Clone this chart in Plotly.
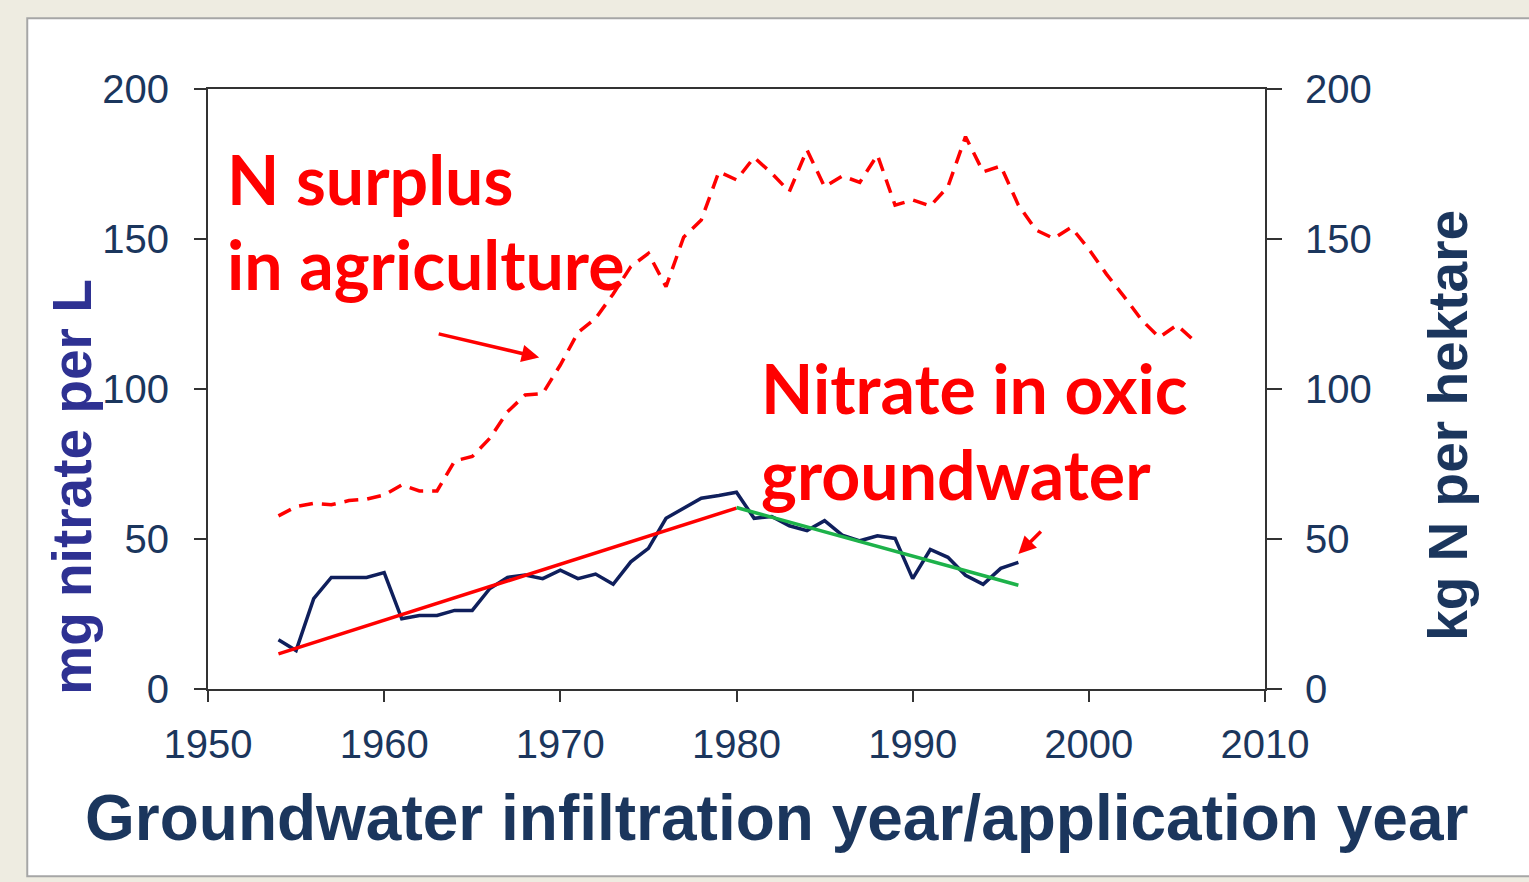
import plotly.graph_objects as go

# ---------------------------------------------------------------------------
# Data
# ---------------------------------------------------------------------------

nitrate_years = [
    1954, 1955, 1956, 1957, 1958, 1959, 1960, 1961, 1962, 1963, 1964,
    1965, 1966, 1967, 1968, 1969, 1970, 1971, 1972, 1973, 1974, 1975,
    1976, 1977, 1978, 1979, 1980, 1981, 1982, 1983, 1984, 1985, 1986,
    1987, 1988, 1989, 1990, 1991, 1992, 1993, 1994, 1995, 1996,
]
nitrate_mg_l = [
    16.4, 12.8, 30.1, 37.2, 37.2, 37.2, 38.8, 23.4, 24.5, 24.5, 26.2,
    26.2, 33.5, 37.2, 38.0, 36.8, 39.6, 36.8, 38.3, 34.9, 42.4, 46.9,
    56.9, 60.3, 63.6, 64.5, 65.6, 56.9, 57.5, 54.4, 52.8, 56.1, 51.3,
    49.4, 51.1, 50.2, 36.8, 46.5, 43.9, 37.9, 34.9, 40.2, 42.2,
]

surplus_years = [
    1954, 1955, 1956, 1957, 1958, 1959, 1960, 1961, 1962, 1963, 1964,
    1965, 1966, 1967, 1968, 1969, 1970, 1971, 1972, 1973, 1974, 1975,
    1976, 1977, 1978, 1979, 1980, 1981, 1982, 1983, 1984, 1985, 1986,
    1987, 1988, 1989, 1990, 1991, 1992, 1993, 1994, 1995, 1996, 1997,
    1998, 1999, 2000, 2001, 2002, 2003, 2004, 2005, 2006,
]
surplus_kg_ha = [
    57.7, 60.8, 61.9, 61.4, 62.8, 63.3, 64.7, 68.0, 66.0, 66.0, 76.0,
    77.5, 83.6, 92.4, 98.0, 98.5, 108.0, 118.8, 123.5, 131.7, 140.8, 145.2,
    134.1, 150.6, 156.3, 172.4, 169.7, 177.2, 171.9, 165.8, 179.7, 167.4, 171.0,
    168.9, 178.0, 161.3, 163.0, 161.0, 167.4, 184.1, 172.4, 174.3, 161.3, 153.0,
    150.2, 153.9, 146.6, 138.3, 130.8, 123.0, 117.2, 121.3, 116.0,
]

rise_years = [1954, 1980]
rise_vals = [11.7, 60.3]
fall_years = [1980, 1996]
fall_vals = [60.5, 34.6]

x_ticks = [1950, 1960, 1970, 1980, 1990, 2000, 2010]
y_ticks = [0, 50, 100, 150, 200]

# ---------------------------------------------------------------------------
# Styling
# ---------------------------------------------------------------------------

NAVY = "#1B365D"
LINE_NAVY = "#0F1F5C"
RED = "#FF0000"
GREEN = "#1DB24A"
AXIS = "#333333"
SLIDE_BG = "#EEECE1"
TICK_FONT = dict(family="Liberation Sans, Arial", size=40, color=NAVY)
NOTE_FONT = dict(family="Lato, Open Sans", size=68, color=RED)

fig = go.Figure()

fig.add_trace(go.Scatter(
    x=surplus_years, y=surplus_kg_ha, yaxis="y2", mode="lines",
    line=dict(color=RED, width=3.5, dash="14px,9px"), name="N surplus",
))
fig.add_trace(go.Scatter(
    x=nitrate_years, y=nitrate_mg_l, mode="lines",
    line=dict(color=LINE_NAVY, width=3.5), name="Nitrate",
))
fig.add_trace(go.Scatter(
    x=rise_years, y=rise_vals, mode="lines",
    line=dict(color=RED, width=3.5), name="Trend up",
))
fig.add_trace(go.Scatter(
    x=fall_years, y=fall_vals, mode="lines",
    line=dict(color=GREEN, width=3.5), name="Trend down",
))

# slide panel behind the chart
fig.add_shape(
    type="rect", xref="paper", yref="paper", layer="below",
    x0=-0.171, x1=1.26, y0=-0.312, y1=1.118,
    line=dict(color="#A6A6A6", width=2), fillcolor="white",
)

notes = [
    ("N surplus", 1950.97, 170.3),
    ("in agriculture", 1950.97, 141.7),
    ("Nitrate in oxic", 1981.27, 100.5),
    ("groundwater", 1981.3, 72),
]
for text, x, y in notes:
    fig.add_annotation(
        text=f"<b>{text}</b>", x=x, y=y, xanchor="left", yanchor="middle",
        showarrow=False, font=NOTE_FONT,
    )

# arrows
fig.add_annotation(
    x=1968.8, y=110.5, ax=-102, ay=-24, text="", showarrow=True,
    arrowhead=2, arrowsize=1, arrowwidth=3.5, arrowcolor=RED,
)
fig.add_annotation(
    x=1996.0, y=45, ax=24, ay=-24, text="", showarrow=True,
    arrowhead=2, arrowsize=1, arrowwidth=3.5, arrowcolor=RED,
)

# axis titles
fig.add_annotation(
    text="<b>mg nitrate per L</b>", xref="paper", yref="paper",
    x=-0.1287, y=0.337, xanchor="center", yanchor="middle",
    textangle=-90, showarrow=False,
    font=dict(family="Liberation Sans, Arial", size=55, color="#2E3192"),
)
fig.add_annotation(
    text="<b>kg N per hektare</b>", xref="paper", yref="paper",
    x=1.173, y=0.44, xanchor="center", yanchor="middle",
    textangle=-90, showarrow=False,
    font=dict(family="Liberation Sans, Arial", size=55, color=NAVY),
)
fig.add_annotation(
    text="<b>Groundwater infiltration year/application year</b>",
    xref="paper", yref="paper", x=0.538, y=-0.215,
    xanchor="center", yanchor="middle", showarrow=False,
    font=dict(family="Liberation Sans, Arial", size=64, color=NAVY),
)

fig.update_layout(
    width=1529,
    height=882,
    margin=dict(l=208, r=264, t=89, b=193, pad=0),
    paper_bgcolor=SLIDE_BG,
    plot_bgcolor="white",
    showlegend=False,
    xaxis=dict(
        range=[1950, 2010], tickvals=x_ticks, showgrid=False, zeroline=False,
        showline=True, linecolor=AXIS, linewidth=2, mirror=True,
        ticks="outside", ticklen=11, tickwidth=1.5, tickcolor=AXIS,
        tickfont=TICK_FONT, ticklabelstandoff=8,
    ),
    yaxis=dict(
        range=[0, 200], tickvals=y_ticks, showgrid=False, zeroline=False,
        showline=True, linecolor=AXIS, linewidth=2,
        ticks="outside", ticklen=12, tickwidth=1.5, tickcolor=AXIS,
        tickfont=TICK_FONT, ticklabelstandoff=17,
    ),
    yaxis2=dict(
        range=[0, 200], tickvals=y_ticks, overlaying="y", side="right",
        showgrid=False, zeroline=False,
        showline=True, linecolor=AXIS, linewidth=2,
        ticks="outside", ticklen=15, tickwidth=1.5, tickcolor=AXIS,
        tickfont=TICK_FONT, ticklabelstandoff=15,
    ),
)

# drop the browser's default page margin so the figure fills the window
page_fix = (
    "document.body.style.margin='0';"
    f"document.body.style.background='{SLIDE_BG}';"
    "document.body.style.overflow='hidden';"
)
fig.write_html(
    "out.html", post_script=page_fix, config={"displayModeBar": False}
)
